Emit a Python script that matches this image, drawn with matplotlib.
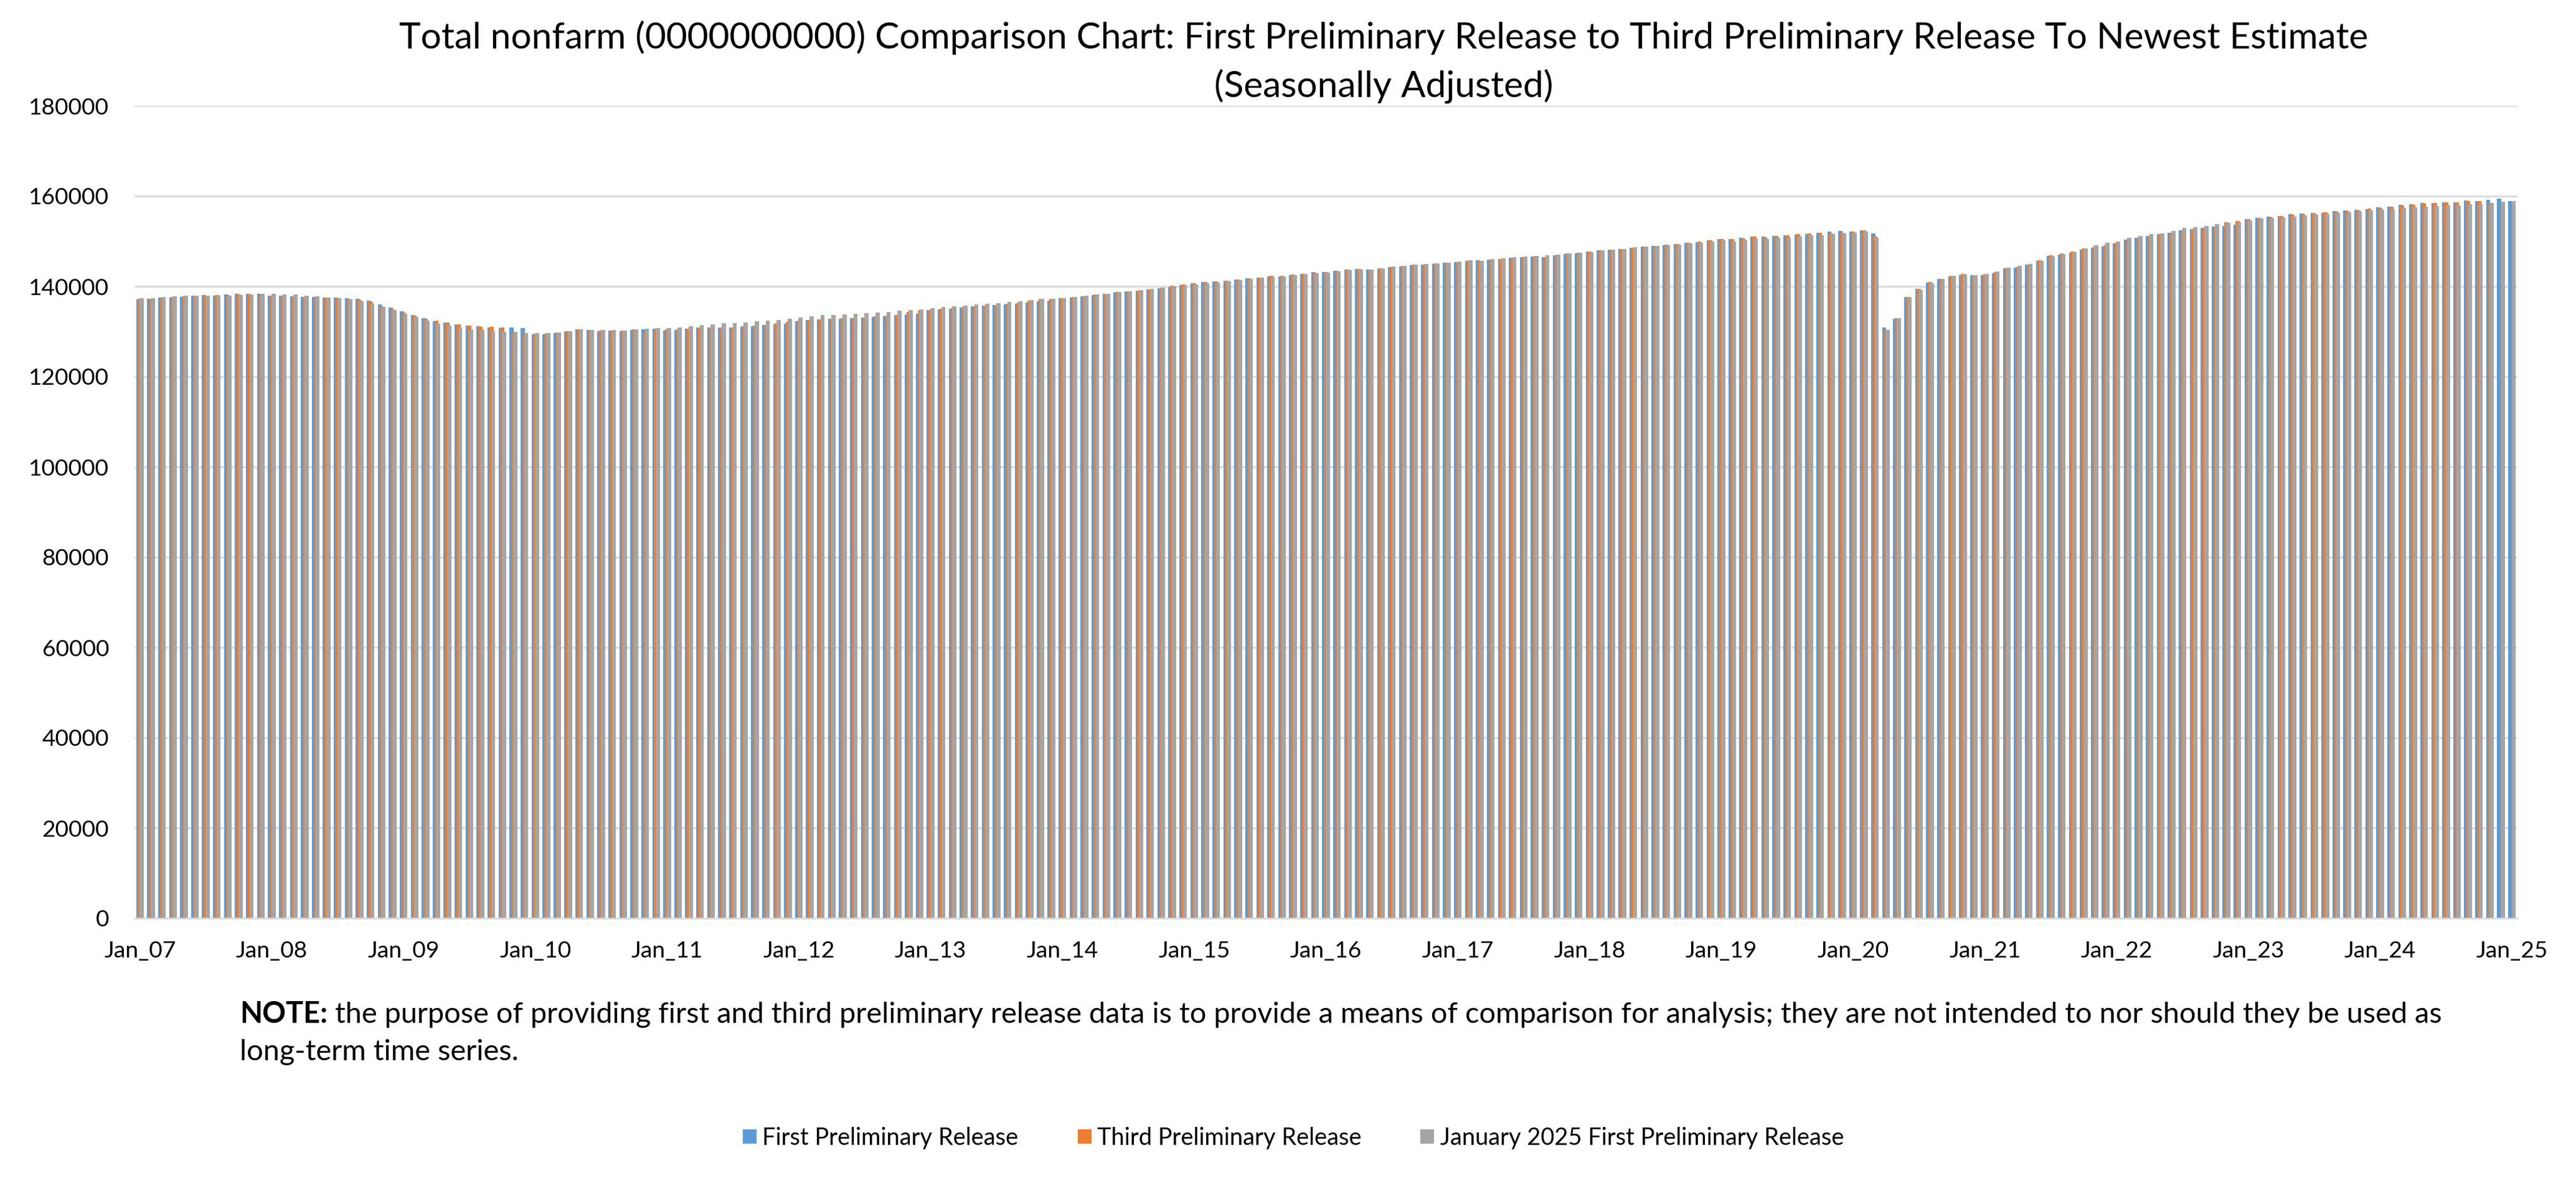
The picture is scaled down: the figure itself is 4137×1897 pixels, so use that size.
import numpy as np
import matplotlib
matplotlib.use("Agg")
import matplotlib.pyplot as plt
from matplotlib.patches import Patch
import pandas as pd

# ---------------- data (thousands of jobs, seasonally adjusted) ----------------
months = pd.date_range("2007-01-01", "2025-01-01", freq="MS")
categories = [d.strftime("%b_%y") for d in months]

tick_labels = ["Jan_07", "Jan_08", "Jan_09", "Jan_10", "Jan_11", "Jan_12", "Jan_13",
               "Jan_14", "Jan_15", "Jan_16", "Jan_17", "Jan_18", "Jan_19", "Jan_20",
               "Jan_21", "Jan_22", "Jan_23", "Jan_24", "Jan_25"]

series_names = ["First Preliminary Release", "Third Preliminary Release",
                "January 2025 First Preliminary Release"]

first_prelim = [
    137150, 137290, 137520, 137520, 137700, 137930, 138070, 137930, 138210, 138350, 138350, 138350,
    137930, 137930, 137800, 137700, 137700, 137520, 137520, 137380, 137290, 136870, 136050, 135360,
    134530, 133700, 132970, 132320, 132050, 131630, 131360, 131220, 130940, 130810, 130940, 130810,
    129400, 129400, 129680, 130090, 130510, 130370, 130090, 130230, 130090, 130370, 130510, 130650,
    130230, 130370, 130650, 130920, 130920, 130920, 130920, 131060, 131200, 131480, 131610, 131750,
    132300, 132580, 132720, 132860, 132860, 133000, 133130, 133270, 133410, 133690, 133830, 133960,
    134790, 134930, 135070, 135355, 135630, 135770, 135910, 136040, 136180, 136460, 136730, 136870,
    137420, 137560, 137840, 138110, 138390, 138670, 138940, 139080, 139360, 139630, 139910, 140320,
    140740, 141010, 141150, 141290, 141560, 141840, 141980, 142250, 142250, 142530, 142810, 143220,
    143220, 143500, 143770, 143910, 143770, 144050, 144320, 144460, 144740, 144870, 145010, 145290,
    145430, 145700, 145840, 145980, 146120, 146390, 146530, 146670, 146530, 146940, 147220, 147360,
    147770, 148050, 148180, 148320, 148600, 148870, 149010, 149150, 149430, 149700, 149840, 150250,
    150530, 150530, 150810, 151080, 151080, 151220, 151360, 151500, 151630, 151880, 152160, 152290,
    152160, 152430, 151700, 130960, 132890, 137710, 139500, 140870, 141700, 142250, 142520, 142520,
    142520, 142940, 144040, 144170, 144860, 145690, 146790, 147060, 147480, 148170, 148580, 148850,
    149540, 150370, 150780, 151190, 151610, 151850, 152420, 152690, 152970, 153240, 153380, 153650,
    154900, 155170, 155450, 155590, 156000, 156140, 156280, 156280, 156690, 156830, 156970, 157100,
    157520, 157650, 158070, 158210, 158480, 158480, 158620, 158620, 159030, 158900, 159170, 159450,
    158900,
]

third_prelim = [
    137290, 137290, 137520, 137660, 137800, 137930, 137930, 138070, 138070, 138210, 138210, 137930,
    137930, 137930, 137700, 137700, 137700, 137520, 137380, 137290, 137010, 136600, 135630, 134940,
    134250, 133560, 132830, 132460, 132050, 131630, 131360, 131080, 131080, 130940, 129610, 129610,
    129540, 129540, 129820, 130090, 130510, 130370, 130230, 130230, 130230, 130510, 129950, 130230,
    130510, 130510, 130650, 130920, 130920, 130920, 130920, 131200, 131340, 131480, 131890, 132170,
    132440, 132580, 132720, 132860, 133000, 133000, 133130, 133410, 133550, 133690, 134380, 134650,
    134790, 135070, 135210, 135490, 135630, 135770, 135910, 136180, 136320, 136870, 137290, 137290,
    137420, 137700, 137840, 138250, 138390, 138800, 138940, 139080, 139360, 139630, 140180, 140460,
    140740, 141010, 141150, 141290, 141560, 141840, 141980, 142390, 142390, 142670, 142810, 143080,
    143220, 143500, 143770, 143910, 143770, 144050, 144320, 144600, 144870, 144870, 145150, 145290,
    145430, 145700, 145700, 145980, 146120, 146250, 146390, 146670, 146390, 146940, 147360, 147500,
    147770, 148050, 148180, 148320, 148600, 148870, 149010, 149290, 149430, 149700, 149980, 150250,
    150530, 150530, 150670, 151080, 150940, 151220, 151360, 151630, 151770, 151880, 151700, 151880,
    152160, 152430, 151060, 130410, 133030, 137710, 139500, 141010, 141700, 142390, 142800, 142520,
    142660, 143210, 144040, 144310, 144860, 145830, 146930, 147340, 147750, 148440, 148850, 149130,
    149680, 150370, 150780, 151190, 151610, 151780, 152280, 152550, 152830, 153100, 154210, 154440,
    154900, 155170, 155310, 155590, 155860, 156000, 156140, 156410, 156550, 156690, 156830, 157240,
    157380, 157650, 157930, 158070, 158340, 158480, 158620, 158620, 158900, 158900, 158480, np.nan,
    np.nan,
]

jan2025_first = [
    137430, 137430, 137660, 137800, 137930, 137890, 137930, 137930, 137930, 138070, 138210, 138350,
    138350, 138210, 138210, 137930, 137800, 137520, 137380, 137150, 136740, 136180, 135400, 134810,
    133930, 133290, 132410, 131770, 131310, 130940, 130530, 130390, 130120, 129980, 129980, 129630,
    129680, 129680, 129820, 130090, 130510, 130370, 130370, 130370, 130230, 130510, 130650, 130780,
    130780, 130920, 131200, 131480, 131610, 131890, 131890, 132030, 132300, 132440, 132580, 132860,
    133130, 133410, 133690, 133690, 133830, 133960, 134100, 134240, 134380, 134650, 134790, 134930,
    135160, 135480, 135620, 135720, 136000, 136140, 136280, 136550, 136690, 136960, 137290, 137290,
    137420, 137700, 137980, 138250, 138390, 138800, 138940, 139220, 139490, 139770, 140050, 140320,
    140460, 140740, 140870, 141150, 141430, 141700, 141980, 142120, 142250, 142530, 142810, 142940,
    143080, 143360, 143630, 143770, 143770, 144050, 144460, 144600, 144870, 145010, 145150, 145290,
    145560, 145840, 145700, 146120, 146250, 146530, 146670, 146800, 146940, 147080, 147360, 147500,
    147630, 148050, 148180, 148320, 148740, 148870, 149010, 149150, 149290, 149560, 149700, 149980,
    150250, 149980, 150250, 150530, 150530, 150810, 150810, 151080, 151360, 151280, 151560, 151700,
    151880, 152160, 150730, 130410, 133030, 137520, 139220, 140690, 141700, 142390, 142660, 142520,
    142800, 143350, 144170, 144590, 145000, 145690, 146650, 147200, 147620, 148440, 149130, 149680,
    149950, 150780, 151190, 151610, 151740, 152260, 152920, 153060, 153330, 153750, 154020, 154160,
    154620, 154990, 154990, 155310, 155450, 155720, 155860, 156000, 156280, 156410, 156550, 156830,
    156970, 157100, 157380, 157520, 157650, 157790, 157930, 157930, 158210, 158210, 158480, 158760,
    158900,
]

y_ticks = [0, 20000, 40000, 60000, 80000, 100000, 120000, 140000, 160000, 180000]

title_lines = ["Total nonfarm (0000000000) Comparison Chart: First Preliminary Release to "
               "Third Preliminary Release To Newest Estimate",
               "(Seasonally Adjusted)"]
note_bold = "NOTE:"
note_line1 = (" the purpose of providing first and third preliminary release data is to provide "
              "a means of comparison for analysis; they are not intended to nor should they be used as")
note_line2 = "long-term time series."

colors = ["#5B9BD5", "#ED7D31", "#A5A5A5"]

# ---------------- figure ----------------
W, H, DPI = 4137, 1897, 100
plt.rcParams["font.family"] = ["Lato", "DejaVu Sans"]
fig = plt.figure(figsize=(W / DPI, H / DPI), dpi=DPI)
fig.patch.set_facecolor("white")
renderer = fig.canvas.get_renderer()


def text_width(s, size, weight="normal"):
    t = fig.text(0, 0, s, fontsize=size, fontweight=weight)
    w = t.get_window_extent(renderer).width
    t.remove()
    return w


def fit_size(s, target_px, weight="normal"):
    return 30.0 * target_px / text_width(s, 30.0, weight)


PX = DPI / 72.0  # pixels per point

# plot area in pixels
L, R, T, B = 216, 4043, 170, 1475
ax = fig.add_axes([L / W, 1 - B / H, (R - L) / W, (B - T) / H])

x = np.arange(len(categories))
bw, off = 0.38, 0.16
for k, (vals, col, name) in enumerate(zip([first_prelim, third_prelim, jan2025_first],
                                          colors, series_names)):
    ax.bar(x + (k - 1) * off, np.array(vals, dtype=float), bw, color=col,
           linewidth=0, zorder=2 + k, label=name)

ax.set_xlim(-0.5, len(categories) - 0.5)
ax.set_ylim(0, 180000)
ax.set_yticks(y_ticks)
ax.set_yticklabels([str(v) for v in y_ticks])
ax.yaxis.grid(True, color="#D9D9D9", linewidth=2.0)
ax.set_axisbelow(True)
for s in ["top", "right", "left"]:
    ax.spines[s].set_visible(False)
ax.spines["bottom"].set_color("#D9D9D9")
ax.spines["bottom"].set_linewidth(2.0)
ax.spines["bottom"].set_zorder(10)

tick_pos = [categories.index(t) for t in tick_labels]
ax.set_xticks(tick_pos)
ax.set_xticklabels(tick_labels)

tick_size = fit_size("180000", 129)
ax.tick_params(axis="y", length=0, pad=41 / PX, labelsize=tick_size, labelcolor="black")
ax.tick_params(axis="x", length=0, pad=36 / PX, labelsize=tick_size, labelcolor="black")

# ---------------- title ----------------
title_size = fit_size(title_lines[0], 3163)
fig.text(2222 / W, 1 - 78 / H, title_lines[0], fontsize=title_size,
         ha="center", va="baseline")
fig.text(2222 / W, 1 - 156 / H, title_lines[1], fontsize=title_size,
         ha="center", va="baseline")

# ---------------- note ----------------
s30 = text_width(note_bold, 30, "bold") + text_width(note_line1, 30)
note_size = 30.0 * 3532 / s30
nx = 385
wb = text_width(note_bold, note_size, "bold")
fig.text(nx / W, 1 - 1643 / H, note_bold, fontsize=note_size, fontweight="bold",
         ha="left", va="baseline")
fig.text((nx + wb) / W, 1 - 1643 / H, note_line1, fontsize=note_size,
         ha="left", va="baseline")
fig.text(nx / W, 1 - 1703 / H, note_line2, fontsize=note_size,
         ha="left", va="baseline")

# ---------------- legend ----------------
leg_size = fit_size(series_names[0], 411)
handles = [Patch(facecolor=c, edgecolor="none") for c in colors]
fig.legend(handles, series_names, loc="center", bbox_to_anchor=(2077 / W, 1 - 1828 / H),
           ncol=3, frameon=False, fontsize=leg_size, handlelength=0.58, handleheight=0.58,
           handletextpad=0.24, columnspacing=2.5)

fig.savefig("out.png", dpi=DPI, facecolor="white")
